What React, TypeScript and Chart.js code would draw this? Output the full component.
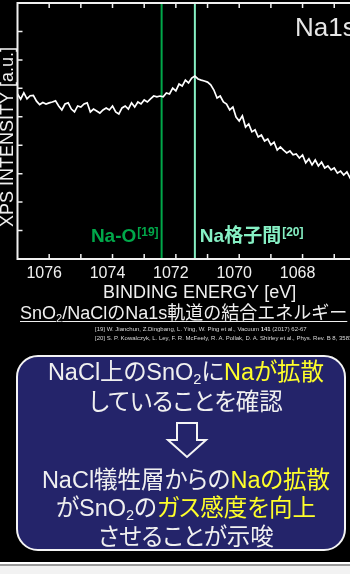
import React, { useEffect, useRef } from 'react';
import { Chart, registerables } from 'chart.js';

Chart.register(...registerables);

// Na1s spectrum, binding energy (eV) and intensity (a.u.)
const energies = [
  1077.0, 1076.9, 1076.8, 1076.7, 1076.6, 1076.5, 1076.4, 1076.3, 1076.2, 1076.1,
  1076.0, 1075.9, 1075.8, 1075.7, 1075.6, 1075.5, 1075.4, 1075.3, 1075.2, 1075.1,
  1075.0, 1074.9, 1074.8, 1074.7, 1074.6, 1074.5, 1074.4, 1074.3, 1074.2, 1074.1,
  1074.0, 1073.9, 1073.8, 1073.7, 1073.6, 1073.5, 1073.4, 1073.3, 1073.2, 1073.1,
  1073.0, 1072.9, 1072.8, 1072.7, 1072.6, 1072.5, 1072.4, 1072.3, 1072.2, 1072.1,
  1072.0, 1071.9, 1071.8, 1071.7, 1071.6, 1071.5, 1071.4, 1071.3, 1071.2, 1071.1,
  1071.0, 1070.9, 1070.8, 1070.7, 1070.6, 1070.5, 1070.4, 1070.3, 1070.2, 1070.1,
  1070.0, 1069.9, 1069.8, 1069.7, 1069.6, 1069.5, 1069.4, 1069.3, 1069.2, 1069.1,
  1069.0, 1068.9, 1068.8, 1068.7, 1068.6, 1068.5, 1068.4, 1068.3, 1068.2, 1068.1,
  1068.0, 1067.9, 1067.8, 1067.7, 1067.6, 1067.5, 1067.4, 1067.3, 1067.2, 1067.1,
  1067.0, 1066.9, 1066.8, 1066.7, 1066.6, 1066.5, 1066.4, 1066.3, 1066.2, 1066.1,
  1066.0,
];

const intensity = [
  5.80, 5.62, 5.84, 5.63, 5.74, 5.75, 5.55, 5.43, 5.50, 5.45,
  5.49, 5.52, 5.56, 5.38, 5.24, 5.45, 5.49, 5.27, 5.17, 5.38,
  5.34, 5.45, 5.49, 5.17, 5.27, 5.20, 5.13, 5.24, 5.31, 5.24,
  5.38, 5.17, 5.10, 5.31, 5.38, 5.27, 5.49, 5.34, 5.52, 5.45,
  5.59, 5.52, 5.63, 5.73, 5.70, 5.73, 5.70, 5.84, 5.80, 6.01,
  5.91, 6.15, 6.08, 6.29, 6.19, 6.36, 6.43, 6.33, 6.29, 6.26,
  6.22, 6.12, 5.94, 5.66, 5.73, 5.52, 5.45, 5.24, 5.34, 4.99,
  4.85, 5.03, 4.64, 4.75, 4.47, 4.54, 4.29, 4.36, 4.15, 4.22,
  4.01, 4.11, 3.83, 3.94, 3.83, 3.73, 3.80, 3.66, 3.69, 3.55,
  3.66, 3.38, 3.52, 3.31, 3.48, 3.27, 3.41, 3.20, 3.27, 3.13,
  3.20, 3.02, 3.09, 2.95, 3.06, 2.85, 2.95, 2.81, 2.88, 2.78,
  2.85,
];

// reference positions of the two Na states
const peakEnergies = [1072.45, 1071.4];
const peakNames = ['Na-O', 'Na格子間'];
const peakRefs = ['[19]', '[20]'];
const peakColors = ['#00a84a', '#86f0c4'];

const xMin = 1065.5;
const xMax = 1077;
const yMin = 0;
const yMax = 9;

const LATIN = '"Liberation Sans", Arial, "Noto Sans CJK JP", sans-serif';
const FG = '#f0f0f0';

const decor = {
  id: 'decor',
  beforeDatasetsDraw(chart: any) {
    const { ctx, chartArea: a, scales } = chart;
    const x = scales.x;
    peakEnergies.forEach((e, i) => {
      const px = x.getPixelForValue(e);
      ctx.save();
      ctx.strokeStyle = peakColors[i];
      ctx.lineWidth = 2;
      ctx.beginPath();
      ctx.moveTo(px, a.top);
      ctx.lineTo(px, a.bottom);
      ctx.stroke();
      ctx.restore();
    });
  },
  afterDraw(chart: any) {
    const { ctx, chartArea: a, scales } = chart;
    const x = scales.x;
    const y = scales.y;
    ctx.save();

    // frame
    ctx.strokeStyle = FG;
    ctx.lineWidth = 2;
    ctx.strokeRect(a.left, a.top, a.right - a.left, a.bottom - a.top);

    // inward tick marks
    ctx.lineWidth = 1.5;
    ctx.beginPath();
    x.ticks.forEach((t: any) => {
      if (!Number.isInteger(t.value)) return;
      const px = x.getPixelForValue(t.value);
      if (px <= a.left + 1 || px >= a.right - 1) return;
      ctx.moveTo(px, a.bottom);
      ctx.lineTo(px, a.bottom - 5);
      ctx.moveTo(px, a.top);
      ctx.lineTo(px, a.top + 5);
    });
    y.ticks.forEach((t: any) => {
      if (t.value <= yMin || t.value >= yMax) return;
      const py = y.getPixelForValue(t.value);
      ctx.moveTo(a.left, py);
      ctx.lineTo(a.left + 5, py);
    });
    ctx.stroke();

    // peak labels
    const base = a.bottom - 17;
    peakEnergies.forEach((e, i) => {
      const px = x.getPixelForValue(e);
      ctx.fillStyle = peakColors[i];
      ctx.textBaseline = 'alphabetic';
      ctx.font = `bold 19px ${LATIN}`;
      const w1 = ctx.measureText(peakNames[i]).width;
      ctx.font = `bold 12px ${LATIN}`;
      const w2 = ctx.measureText(peakRefs[i]).width;
      const start = i === 0 ? px - 4 - w1 - w2 : px + 5;
      ctx.font = `bold 19px ${LATIN}`;
      ctx.textAlign = 'left';
      ctx.fillText(peakNames[i], start, base);
      ctx.font = `bold 12px ${LATIN}`;
      ctx.fillText(peakRefs[i], start + w1 + 1, base - 6);
    });

    // orbital label
    ctx.fillStyle = '#e6e6e6';
    ctx.font = `26px ${LATIN}`;
    ctx.textAlign = 'left';
    ctx.fillText('Na1s', 295, a.top + 33);

    // y axis title
    ctx.translate(8, (a.top + a.bottom) / 2 + 6);
    ctx.rotate(-Math.PI / 2);
    ctx.fillStyle = FG;
    ctx.font = `18px ${LATIN}`;
    ctx.textAlign = 'center';
    ctx.textBaseline = 'middle';
    ctx.fillText('XPS INTENSITY [a.u.]', 0, 0);

    ctx.restore();
  },
};

function SpectrumChart() {
  const ref = useRef<HTMLCanvasElement | null>(null);
  useEffect(() => {
    if (!ref.current) return;
    const chart = new Chart(ref.current, {
      type: 'line',
      data: {
        datasets: [
          {
            data: energies.map((e, i) => ({ x: e, y: intensity[i] })),
            borderColor: '#ffffff',
            borderWidth: 1.7,
            pointRadius: 0,
            tension: 0,
            fill: false,
          },
        ],
      },
      options: {
        animation: false,
        responsive: false,
        events: [],
        layout: { padding: { top: 3, right: 18.25, left: 0, bottom: 0 } },
        plugins: { legend: { display: false }, tooltip: { enabled: false } },
        scales: {
          x: {
            type: 'linear',
            reverse: true,
            min: xMin,
            max: xMax,
            grid: { display: false, drawTicks: false },
            border: { display: false },
            ticks: {
              stepSize: 1,
              autoSkip: false,
              maxRotation: 0,
              padding: 5,
              labelOffset: -5,
              color: FG,
              font: { family: LATIN, size: 16 },
              callback: (v: any) => (Number.isInteger(v) && v % 2 === 0 ? String(v) : ''),
            },
            title: {
              display: true,
              text: 'BINDING ENERGY [eV]',
              color: FG,
              font: { family: LATIN, size: 18 },
              padding: 0,
            },
            afterFit: (s: any) => {
              s.height = 45;
            },
          },
          y: {
            min: yMin,
            max: yMax,
            grid: { display: false, drawTicks: false },
            border: { display: false },
            ticks: { stepSize: 1, display: false },
            afterFit: (s: any) => {
              s.width = 17.5;
            },
          },
        },
      },
      plugins: [decor],
    } as any);
    return () => chart.destroy();
  }, []);
  return (
    <canvas
      ref={ref}
      width={400}
      height={304}
      style={{ position: 'absolute', left: 0, top: 0, width: 400, height: 304 }}
    />
  );
}

const JP = '"Liberation Sans", Arial, "Noto Sans CJK JP", sans-serif';
const YEL = '#ffff2a';

function Sub2() {
  return <span style={{ fontSize: '0.62em', verticalAlign: '-0.28em' }}>2</span>;
}

function Line({ top, children }: { top: number; children: React.ReactNode }) {
  return (
    <div
      style={{
        position: 'absolute',
        left: 16,
        width: 340,
        top: top - 15,
        height: 30,
        lineHeight: '30px',
        textAlign: 'center',
        fontSize: 23.5,
        color: FG,
        fontFamily: JP,
        fontFeatureSettings: '"palt"',
        whiteSpace: 'nowrap',
      }}
    >
      {children}
    </div>
  );
}

export default function App() {
  return (
    <div
      style={{
        position: 'fixed',
        left: 0,
        top: 0,
        width: 350,
        height: 574,
        overflow: 'hidden',
        background: '#000',
      }}
    >
      <SpectrumChart />

      <div
        style={{
          position: 'absolute',
          left: 20,
          top: 303,
          height: 20,
          lineHeight: '20px',
          fontSize: 18,
          color: FG,
          fontFamily: JP,
          whiteSpace: 'nowrap',
          textDecoration: 'underline',
          textDecorationThickness: 1,
          textUnderlineOffset: 2,
        }}
      >
        SnO<Sub2 />/NaClのNa1s軌道の結合エネルギー
      </div>

      <div
        style={{
          position: 'absolute',
          left: 95,
          top: 325,
          fontSize: 6,
          lineHeight: '9px',
          color: '#d8d8d8',
          fontFamily: JP,
          whiteSpace: 'nowrap',
        }}
      >
        <div>
          [19] W. Jianchun, Z.Dingbang, L. Ying, W. Ping et al., Vacuum <b>141</b> (2017) 62-67
        </div>
        <div>
          [20] S. P. Kowalczyk, L. Ley, F. R. McFeely, R. A. Pollak, D. A. Shirley et al., Phys. Rev. B 8, 3583 (1973)
        </div>
      </div>

      <div
        style={{
          position: 'absolute',
          left: 16,
          top: 355,
          width: 330,
          height: 196,
          boxSizing: 'border-box',
          border: '2px solid #f4f4f4',
          borderRadius: 22,
          background: '#24246a',
        }}
      />

      <Line top={372}>
        NaCl上のSnO<Sub2 />に<span style={{ color: YEL }}>Naが拡散</span>
      </Line>
      <Line top={402}>していることを確認</Line>

      <svg
        width={350}
        height={574}
        style={{ position: 'absolute', left: 0, top: 0 }}
      >
        <polygon
          points="177,423 197,423 197,440 206,440 187,457 168,440 177,440"
          fill="#24246a"
          stroke="#f4f4f4"
          strokeWidth={2}
          strokeLinejoin="miter"
        />
      </svg>

      <Line top={480}>
        NaCl犠牲層からの<span style={{ color: YEL }}>Naの拡散</span>
      </Line>
      <Line top={508}>
        がSnO<Sub2 />の<span style={{ color: YEL }}>ガス感度を向上</span>
      </Line>
      <Line top={537}>させることが示唆</Line>

      <div style={{ position: 'absolute', left: 0, top: 562, width: 350, height: 2, background: '#ffffff' }} />
      <div style={{ position: 'absolute', left: 0, top: 564, width: 350, height: 2, background: '#9a9a9a' }} />
      <div style={{ position: 'absolute', left: 0, top: 566, width: 350, height: 8, background: '#f2f2f2' }} />
    </div>
  );
}
